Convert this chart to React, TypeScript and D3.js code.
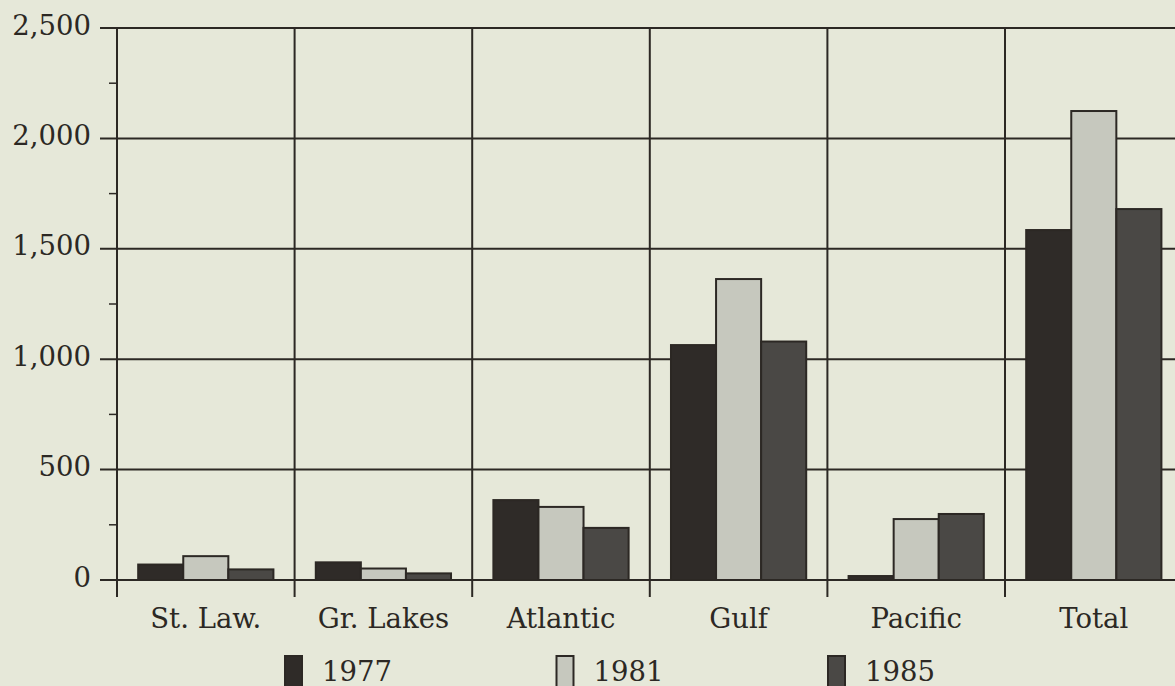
import React from "react";
import * as d3 from "d3";

const categories = ["St. Law.", "Gr. Lakes", "Atlantic", "Gulf", "Pacific", "Total"];
const years = ["1977", "1981", "1985"];
const values1977 = [70, 80, 362, 1064, 18, 1585];
const values1981 = [108, 52, 331, 1363, 276, 2124];
const values1985 = [48, 30, 236, 1080, 299, 1680];
const yTicks = [0, 500, 1000, 1500, 2000, 2500];
const yMinorTicks = [250, 750, 1250, 1750, 2250];

const seriesValues = [values1977, values1981, values1985];
const fills = ["#2f2b28", "#c6c8be", "#4a4845"];
const ink = "#2c2824";
const bg = "#e6e8d9";

export default function App() {
  const W = 1175;
  const H = 686;
  const left = 117;
  const top = 28;
  const zeroY = 580;
  const catW = 177.6;

  const x0 = d3
    .scaleBand<string>()
    .domain(categories)
    .range([left, left + catW * categories.length])
    .padding(0);
  const x1 = d3
    .scaleBand<string>()
    .domain(years)
    .range([0, x0.bandwidth()])
    .paddingInner(0)
    .paddingOuter(0.47);
  const y = d3.scaleLinear().domain([0, 2500]).range([zeroY, top]);
  const fmt = d3.format(",");
  const font = "'DejaVu Serif', serif";
  const fs = 27.5;

  const boundaries = categories.map((c) => x0(c) as number).concat([x0.range()[1]]);

  return (
    <svg
      width={W}
      height={H}
      style={{ position: "absolute", left: 0, top: 0, background: bg, display: "block" }}
    >
      <rect x={0} y={0} width={W} height={H} fill={bg} />
      {yTicks.map((t) => (
        <line key={"g" + t} x1={100} x2={W} y1={y(t)} y2={y(t)} stroke={ink} strokeWidth={2} />
      ))}
      {yMinorTicks.map((t) => (
        <line key={"m" + t} x1={109} x2={left} y1={y(t)} y2={y(t)} stroke={ink} strokeWidth={1.5} />
      ))}
      {boundaries.map((bx, i) => (
        <line key={"v" + i} x1={bx} x2={bx} y1={top} y2={zeroY + 17} stroke={ink} strokeWidth={2} />
      ))}
      {yTicks.map((t) => (
        <text
          key={"l" + t}
          x={91}
          y={y(t) - 3}
          dy="0.35em"
          textAnchor="end"
          fontFamily={font}
          fontSize={fs}
          fill={ink}
        >
          {fmt(t)}
        </text>
      ))}
      {categories.map((c, ci) => (
        <g key={c} transform={`translate(${x0(c)},0)`}>
          {years.map((yr, si) => {
            const v = seriesValues[si][ci];
            const bx = x1(yr) as number;
            return (
              <rect
                key={yr}
                x={bx}
                y={y(v)}
                width={x1.bandwidth()}
                height={zeroY - y(v)}
                fill={fills[si]}
                stroke={ink}
                strokeWidth={2}
              />
            );
          })}
        </g>
      ))}
      <line x1={100} x2={W} y1={zeroY} y2={zeroY} stroke={ink} strokeWidth={2} />
      {categories.map((c) => (
        <text
          key={"c" + c}
          x={(x0(c) as number) + x0.bandwidth() / 2}
          y={628}
          textAnchor="middle"
          fontFamily={font}
          fontSize={fs}
          fill={ink}
        >
          {c}
        </text>
      ))}
      {years.map((yr, i) => {
        const lx = 285 + i * 271.5;
        return (
          <g key={"lg" + yr}>
            <rect x={lx} y={656} width={17} height={34} fill={fills[i]} stroke={ink} strokeWidth={2} />
            <text x={lx + 37} y={681} fontFamily={font} fontSize={fs} fill={ink}>
              {yr}
            </text>
          </g>
        );
      })}
    </svg>
  );
}
